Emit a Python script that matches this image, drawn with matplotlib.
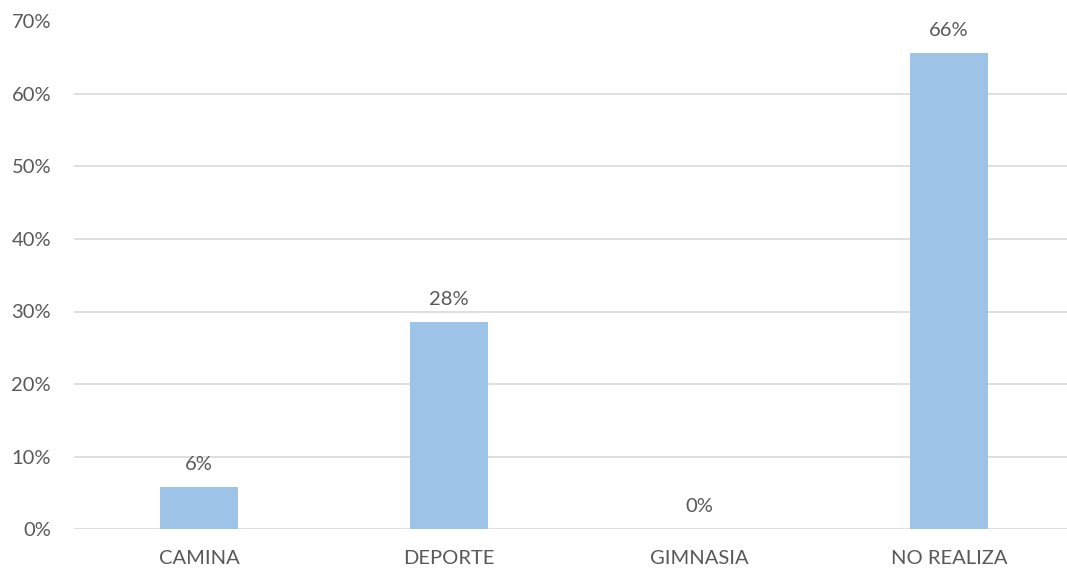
import matplotlib.pyplot as plt
from matplotlib.ticker import PercentFormatter, MultipleLocator

categories = ['CAMINA', 'DEPORTE', 'GIMNASIA', 'NO REALIZA']
shares = [0.058, 0.285, 0.0, 0.657]

plt.rcParams['font.family'] = ['Lato', 'DejaVu Sans']
text_color = '#595959'

fig = plt.figure(figsize=(10.67, 5.71), dpi=100)
ax = fig.add_axes([74 / 1067, 42 / 571, 1000 / 1067, 507.5 / 571])

x = range(len(categories))
bars = ax.bar(x, shares, width=0.31, color='#9DC3E6', zorder=2)
for b, v in zip(bars, shares):
    ax.annotate(f'{v:.0%}', (b.get_x() + b.get_width() / 2, v),
                xytext=(0, 10), textcoords='offset points',
                ha='center', va='bottom', fontsize=14.5, color=text_color)

ax.set_xlim(-0.5, len(categories) - 0.5)
ax.set_ylim(0, 0.70)
ax.yaxis.set_major_locator(MultipleLocator(0.10))
ax.yaxis.set_major_formatter(PercentFormatter(1.0, decimals=0))
ax.set_xticks(list(x))
ax.set_xticklabels(categories)
ax.grid(axis='y', color='#D9D9D9', linewidth=1.2, zorder=0)
ax.tick_params(length=0, labelsize=14.5, labelcolor=text_color)
ax.tick_params(axis='x', pad=15)
ax.tick_params(axis='y', pad=16.5)
for s in ax.spines.values():
    s.set_visible(False)

fig.savefig('out.png', dpi=100)
